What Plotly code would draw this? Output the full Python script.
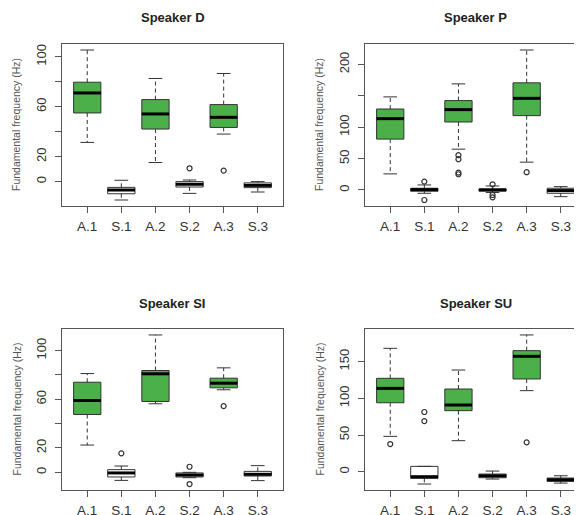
import plotly.graph_objects as go

categories = ["A.1", "S.1", "A.2", "S.2", "A.3", "S.3"]
speakers = ["Speaker D", "Speaker P", "Speaker SI", "Speaker SU"]

# five-number summaries per speaker (Hz)
d_lower = [31.4, -14.7, 15.3, -9.4, 38.1, -8.3]
d_q1 = [55.0, -9.7, 42.1, -4.3, 43.4, -4.8]
d_median = [71.0, -6.7, 54.2, -2.1, 51.5, -3.0]
d_q3 = [79.6, -4.6, 65.7, 0.0, 61.7, -1.0]
d_upper = [105.4, 1.1, 82.6, 1.3, 86.6, 0.0]
d_out = [[], [], [], [10.7], [8.8], []]

p_lower = [25.6, -5.3, 65.0, -4.0, 44.3, -10.7]
p_q1 = [81.0, -2.0, 108.3, -1.6, 118.4, -5.3]
p_median = [113.6, 0.5, 128.0, 0.0, 146.0, -1.0]
p_q3 = [129.0, 2.7, 142.4, 1.6, 170.7, 2.7]
p_upper = [148.3, 8.0, 169.0, 6.4, 223.0, 5.3]
p_out = [[], [13.3, -16.0], [55.5, 49.0, 27.7, 25.0], [9.0, -8.0, -11.7], [28.3], []]

si_lower = [22.4, -6.6, 56.3, -4.4, 67.8, -6.8]
si_q1 = [47.5, -3.8, 58.2, -3.8, 69.4, -3.0]
si_median = [59.0, -0.5, 80.9, -2.2, 73.2, -1.6]
si_q3 = [74.0, 2.2, 83.6, -0.5, 77.3, 0.8]
si_upper = [81.1, 5.2, 112.8, 0.0, 85.8, 5.5]
si_out = [[], [15.6], [], [4.6, -9.6], [54.4], []]

su_lower = [48.2, -16.8, 42.3, -10.0, 110.5, -15.5]
su_q1 = [94.0, -9.1, 83.2, -8.2, 126.4, -13.2]
su_median = [113.6, -6.8, 90.9, -5.5, 157.3, -10.9]
su_q3 = [127.3, 7.3, 112.7, -3.2, 165.0, -8.6]
su_upper = [168.2, 7.3, 138.6, 0.9, 186.4, -5.5]
su_out = [[37.7], [81.4, 69.0], [], [], [40.0], []]

yticks = [[0, 20, 40, 60, 80, 100], [0, 50, 100, 150, 200],
          [0, 20, 40, 60, 80, 100], [0, 50, 100, 150]]
yticklabels = [["0", "20", "", "60", "", "100"], ["0", "50", "100", "", "200"],
               ["0", "20", "", "60", "", "100"], ["0", "50", "100", "150"]]

data = [
    (d_lower, d_q1, d_median, d_q3, d_upper, d_out),
    (p_lower, p_q1, p_median, p_q3, p_upper, p_out),
    (si_lower, si_q1, si_median, si_q3, si_upper, si_out),
    (su_lower, su_q1, su_median, su_q3, su_upper, su_out),
]

OFF = 8  # page body margin
W, H = 582 - OFF, 515 - OFF
GREEN = "#4cb04a"
EDGE = "#333333"
AXC = "#555555"
TXT = "#333333"
FONT = "Liberation Sans, Arial, sans-serif"

# panel frames in window pixels: (left, right, top, bottom)
frames = [(62, 283, 44, 206), (365, 582, 44, 206), (62, 283, 329, 490), (365, 582, 329, 490)]
px_per_unit = (283 - 62) / 6.48

fig = go.Figure()
layout = dict(width=W, height=H, margin=dict(l=0, r=0, t=0, b=0, autoexpand=False),
              template="none",
              paper_bgcolor="white", plot_bgcolor="white", showlegend=False,
              font=dict(family=FONT, color=TXT))
annotations = []

for k, (lo, q1, med, q3, up, outs) in enumerate(data):
    xa = "x" if k == 0 else f"x{k+1}"
    ya = "y" if k == 0 else f"y{k+1}"
    pos = list(range(1, len(categories) + 1))
    for i, p in enumerate(pos):
        fill = GREEN if categories[i].startswith("A") else "white"
        fig.add_trace(go.Box(x=[p], q1=[q1[i]], median=[med[i]], q3=[q3[i]],
                             lowerfence=[q1[i]], upperfence=[q3[i]],
                             width=0.8, fillcolor=fill, boxpoints=False,
                             line=dict(color=EDGE, width=1), whiskerwidth=0,
                             xaxis=xa, yaxis=ya, hoverinfo="skip"))
        # dashed whiskers
        fig.add_trace(go.Scatter(x=[p, p, None, p, p], y=[q3[i], up[i], None, q1[i], lo[i]],
                                 mode="lines", line=dict(color=EDGE, width=1, dash="4px,3px"),
                                 xaxis=xa, yaxis=ya, hoverinfo="skip"))
        # staples
        fig.add_trace(go.Scatter(x=[p - 0.2, p + 0.2, None, p - 0.2, p + 0.2],
                                 y=[up[i], up[i], None, lo[i], lo[i]],
                                 mode="lines", line=dict(color=EDGE, width=1),
                                 xaxis=xa, yaxis=ya, hoverinfo="skip"))
        # thick median
        fig.add_trace(go.Scatter(x=[p - 0.4, p + 0.4], y=[med[i], med[i]], mode="lines",
                                 line=dict(color="black", width=3),
                                 xaxis=xa, yaxis=ya, hoverinfo="skip"))
        if outs[i]:
            fig.add_trace(go.Scatter(x=[p] * len(outs[i]), y=outs[i], mode="markers",
                                     marker=dict(symbol="circle-open", size=5,
                                                 color=EDGE, line=dict(width=1.2)),
                                     xaxis=xa, yaxis=ya, hoverinfo="skip"))

    allv = lo + up + [v for o in outs for v in o]
    vmin, vmax = min(allv), max(allv)
    ext = 0.04 * (vmax - vmin)
    L, R, T, B = [v - OFF for v in frames[k]]
    R = min(R, W)
    xr_hi = 0.26 + (R - L) / px_per_unit
    xkey = "xaxis" if k == 0 else f"xaxis{k+1}"
    ykey = "yaxis" if k == 0 else f"yaxis{k+1}"
    layout[xkey] = dict(domain=[L / W, R / W], range=[0.26, xr_hi], anchor=ya,
                        tickvals=pos, ticktext=categories, ticks="outside", ticklen=6,
                        tickcolor=AXC, showline=True, linecolor=AXC, linewidth=1.2,
                        mirror=True, showgrid=False, zeroline=False, automargin=False,
                        tickfont=dict(size=13.5, color=TXT, family=FONT),
                        ticklabelstandoff=2)
    layout[ykey] = dict(domain=[1 - B / H, 1 - T / H], range=[vmin - ext, vmax + ext],
                        anchor=xa, tickvals=yticks[k], ticktext=yticklabels[k],
                        ticks="outside", ticklen=6, tickcolor=AXC, showline=True,
                        linecolor=AXC, linewidth=1.2, mirror=(R < W), automargin=False,
                        showgrid=False, zeroline=False, tickangle=-90,
                        tickfont=dict(size=13, color=TXT, family=FONT),
                        ticklabelstandoff=4)
    annotations.append(dict(text=f"<b>{speakers[k]}</b>", x=(L + (L + 6.48 * px_per_unit)) / 2 / W,
                            y=1 - (T - 26) / H, xref="paper", yref="paper",
                            showarrow=False, xanchor="center", yanchor="middle",
                            font=dict(size=13, color="#222222", family=FONT)))
    annotations.append(dict(text="Fundamental frequency (Hz)", x=(L - 46) / W,
                            y=1 - (T + B) / 2 / H, xref="paper", yref="paper",
                            showarrow=False, textangle=-90, xanchor="center",
                            yanchor="middle", font=dict(size=10.5, color="#555555", family=FONT)))

layout["annotations"] = annotations
fig.update_layout(**layout)
fig.write_html("out.html")
